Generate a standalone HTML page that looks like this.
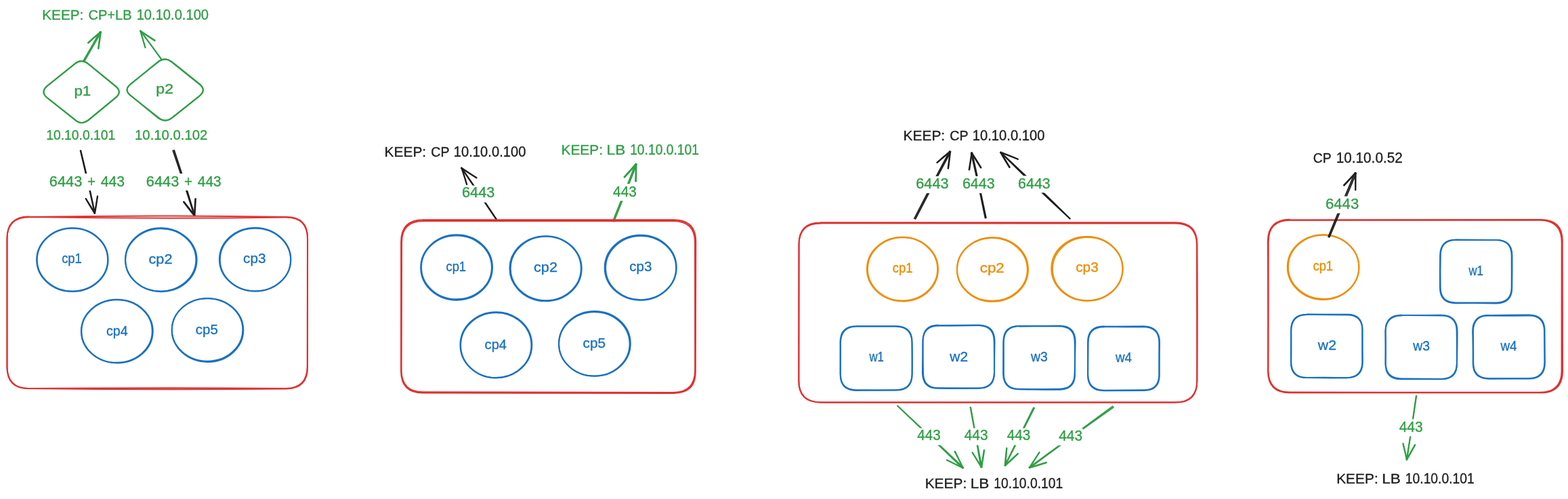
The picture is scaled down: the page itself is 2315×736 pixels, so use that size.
<!DOCTYPE html>
<html lang="en">
<head>
<meta charset="utf-8">
<title>Cluster topologies</title>
<style>
html,body{margin:0;padding:0;background:#ffffff;}
body{width:2315px;height:736px;overflow:hidden;}
svg{display:block;will-change:transform;}
svg text{font-family:"Liberation Sans", sans-serif;white-space:pre;}
</style>
</head>
<body>
<svg width="2315" height="736" viewBox="0 0 2315 736">
<rect width="2315" height="736" fill="#ffffff"/>
<text y="28.80" fill="#2f9e44" stroke="#2f9e44" stroke-width="0.35" stroke-linejoin="round" font-size="20.3"><tspan x="62.32" textLength="60.88" lengthAdjust="spacingAndGlyphs">KEEP:</tspan> <tspan x="130.47" textLength="64.19" lengthAdjust="spacingAndGlyphs" font-size="20.7">CP+LB</tspan> <tspan x="201.66" textLength="106.42" lengthAdjust="spacingAndGlyphs" font-size="21.3">10.10.0.100</tspan></text>
<path d="M123.40 89.24 Q135.78 68.09 147.74 46.71" stroke="#2f9e44" stroke-width="1.9" fill="none" stroke-linecap="round"/>
<path d="M124.79 90.04 Q136.88 68.73 149.35 47.63" stroke="#2f9e44" stroke-width="1.9" fill="none" stroke-linecap="round"/>
<path d="M129.88 63.04 Q138.96 54.80 148.40 46.98" stroke="#2f9e44" stroke-width="1.9" fill="none" stroke-linecap="round"/>
<path d="M130.38 63.61 Q139.37 55.27 148.68 47.30" stroke="#2f9e44" stroke-width="1.9" fill="none" stroke-linecap="round"/>
<path d="M144.97 71.66 Q146.48 59.39 148.43 47.18" stroke="#2f9e44" stroke-width="1.9" fill="none" stroke-linecap="round"/>
<path d="M145.49 71.73 Q147.48 59.52 148.95 47.25" stroke="#2f9e44" stroke-width="1.9" fill="none" stroke-linecap="round"/>
<path d="M238.86 88.40 Q223.65 66.62 207.21 45.74" stroke="#2f9e44" stroke-width="1.9" fill="none" stroke-linecap="round"/>
<path d="M239.01 88.29 Q223.07 67.04 207.68 45.40" stroke="#2f9e44" stroke-width="1.9" fill="none" stroke-linecap="round"/>
<path d="M228.38 60.23 Q217.71 53.17 207.17 45.93" stroke="#2f9e44" stroke-width="1.9" fill="none" stroke-linecap="round"/>
<path d="M228.81 59.59 Q218.17 52.50 207.47 45.50" stroke="#2f9e44" stroke-width="1.9" fill="none" stroke-linecap="round"/>
<path d="M214.41 70.25 Q210.79 57.96 207.11 45.68" stroke="#2f9e44" stroke-width="1.9" fill="none" stroke-linecap="round"/>
<path d="M214.67 70.18 Q210.90 57.93 207.47 45.58" stroke="#2f9e44" stroke-width="1.9" fill="none" stroke-linecap="round"/>
<path d="M110.15 94.35 Q120.25 85.78 130.44 94.50 L171.03 127.36 Q181.09 135.98 170.48 144.11 L130.86 176.57 Q120.22 185.47 110.45 176.40 L69.52 144.02 Q59.80 135.67 69.40 127.33 Z" stroke="#2f9e44" stroke-width="2.0" fill="none" stroke-linejoin="round"/>
<path d="M110.35 94.23 Q120.38 85.94 130.83 94.51 L171.07 127.61 Q180.63 135.80 170.71 144.20 L130.78 177.28 Q120.19 185.39 110.29 176.57 L69.39 144.00 Q59.09 135.87 69.53 126.78 Z" stroke="#2f9e44" stroke-width="2.0" fill="none" stroke-linejoin="round"/>
<path d="M233.04 91.35 Q243.38 83.15 254.08 91.97 L294.56 124.59 Q304.67 132.52 294.83 141.36 L254.04 173.99 Q243.48 181.73 233.87 173.25 L192.83 140.98 Q182.21 132.52 193.18 123.96 Z" stroke="#2f9e44" stroke-width="2.0" fill="none" stroke-linejoin="round"/>
<path d="M233.28 91.67 Q243.82 83.32 254.64 91.79 L294.68 123.76 Q305.27 132.90 294.91 141.28 L254.08 173.50 Q243.36 181.57 233.02 173.74 L192.80 140.66 Q182.21 132.25 192.93 123.75 Z" stroke="#2f9e44" stroke-width="2.0" fill="none" stroke-linejoin="round"/>
<text y="140.50" fill="#2f9e44" stroke="#2f9e44" stroke-width="0.35" stroke-linejoin="round" font-size="20"><tspan x="109.42" textLength="24.87" lengthAdjust="spacingAndGlyphs">p1</tspan></text>
<text y="138.20" fill="#2f9e44" stroke="#2f9e44" stroke-width="0.35" stroke-linejoin="round" font-size="20"><tspan x="230.38" textLength="25.66" lengthAdjust="spacingAndGlyphs">p2</tspan></text>
<text y="206.30" fill="#2f9e44" stroke="#2f9e44" stroke-width="0.35" stroke-linejoin="round" font-size="21"><tspan x="68.23" textLength="102.02" lengthAdjust="spacingAndGlyphs">10.10.0.101</tspan></text>
<text y="206.00" fill="#2f9e44" stroke="#2f9e44" stroke-width="0.35" stroke-linejoin="round" font-size="21"><tspan x="199.05" textLength="107.35" lengthAdjust="spacingAndGlyphs">10.10.0.102</tspan></text>
<path d="M119.35 222.12 Q130.49 268.11 140.15 314.44" stroke="#1e1e1e" stroke-width="1.9" fill="none" stroke-linecap="round"/>
<path d="M118.66 222.28 Q129.71 268.29 139.66 314.55" stroke="#1e1e1e" stroke-width="1.9" fill="none" stroke-linecap="round"/>
<path d="M126.90 292.92 Q133.60 303.58 140.16 314.34" stroke="#1e1e1e" stroke-width="1.9" fill="none" stroke-linecap="round"/>
<path d="M126.52 293.15 Q132.79 304.09 139.57 314.71" stroke="#1e1e1e" stroke-width="1.9" fill="none" stroke-linecap="round"/>
<path d="M144.16 289.44 Q142.40 302.03 140.15 314.54" stroke="#1e1e1e" stroke-width="1.9" fill="none" stroke-linecap="round"/>
<path d="M143.81 289.39 Q141.90 301.95 139.72 314.47" stroke="#1e1e1e" stroke-width="1.9" fill="none" stroke-linecap="round"/>
<rect x="72.2" y="256.0" width="112.6" height="25" fill="#ffffff"/>
<text y="274.50" fill="#2f9e44" stroke="#2f9e44" stroke-width="0.35" stroke-linejoin="round" font-size="21.3"><tspan x="72.78" textLength="48.51" lengthAdjust="spacingAndGlyphs">6443</tspan> <tspan x="128.95" textLength="11.98" lengthAdjust="spacingAndGlyphs">+</tspan> <tspan x="148.74" textLength="35.41" lengthAdjust="spacingAndGlyphs">443</tspan></text>
<path d="M257.13 221.57 Q273.10 269.58 287.61 318.07" stroke="#1e1e1e" stroke-width="1.9" fill="none" stroke-linecap="round"/>
<path d="M255.37 222.13 Q271.68 270.04 286.90 318.29" stroke="#1e1e1e" stroke-width="1.9" fill="none" stroke-linecap="round"/>
<path d="M271.48 297.46 Q279.50 307.71 287.55 317.93" stroke="#1e1e1e" stroke-width="1.9" fill="none" stroke-linecap="round"/>
<path d="M270.95 297.87 Q278.83 308.23 286.89 318.44" stroke="#1e1e1e" stroke-width="1.9" fill="none" stroke-linecap="round"/>
<path d="M288.95 293.12 Q288.42 305.68 287.50 318.22" stroke="#1e1e1e" stroke-width="1.9" fill="none" stroke-linecap="round"/>
<path d="M288.24 293.08 Q287.42 305.62 286.94 318.19" stroke="#1e1e1e" stroke-width="1.9" fill="none" stroke-linecap="round"/>
<rect x="215.2" y="256.0" width="112.1" height="25" fill="#ffffff"/>
<text y="274.50" fill="#2f9e44" stroke="#2f9e44" stroke-width="0.35" stroke-linejoin="round" font-size="21.3"><tspan x="215.78" textLength="48.51" lengthAdjust="spacingAndGlyphs">6443</tspan> <tspan x="271.95" textLength="11.98" lengthAdjust="spacingAndGlyphs">+</tspan> <tspan x="291.75" textLength="34.89" lengthAdjust="spacingAndGlyphs">443</tspan></text>
<path d="M42.43 320.06 Q232.20 323.13 422.19 320.50 Q453.96 320.36 454.02 352.06 Q453.87 446.52 453.75 540.47 Q453.68 572.72 421.68 572.93 Q232.20 571.62 42.51 573.11 Q10.72 572.96 10.46 540.60 Q10.30 446.52 10.34 352.04 Q10.59 320.39 42.79 320.24" stroke="#e03131" stroke-width="2.0" fill="none" stroke-linecap="round" stroke-linejoin="round"/>
<path d="M42.36 319.96 Q232.20 316.77 422.26 320.04 Q454.25 319.84 454.13 351.52 Q454.41 446.48 454.03 541.41 Q454.32 573.16 422.08 573.51 Q232.20 575.00 42.02 572.94 Q10.13 573.34 10.46 540.95 Q10.55 446.48 10.59 351.86 Q10.20 319.77 41.99 319.41" stroke="#e03131" stroke-width="2.0" fill="none" stroke-linecap="round" stroke-linejoin="round"/>
<path d="M54.77 383.10 C54.77 357.48 78.12 336.70 106.93 336.70 C135.74 336.70 159.09 357.48 159.09 383.10 C159.09 408.73 135.74 429.51 106.93 429.51 C78.12 429.51 54.77 408.73 54.77 383.10 Z" transform="rotate(-0.20 106.60 383.00)" stroke="#1971c2" stroke-width="2.0" fill="none"/>
<path d="M54.11 383.23 C54.11 357.35 77.73 336.37 106.86 336.37 C135.99 336.37 159.61 357.35 159.61 383.23 C159.61 409.11 135.99 430.09 106.86 430.09 C77.73 430.09 54.11 409.11 54.11 383.23 Z" transform="rotate(-0.62 106.60 383.00)" stroke="#1971c2" stroke-width="2.0" fill="none"/>
<text y="388.30" fill="#1971c2" stroke="#1971c2" stroke-width="0.35" stroke-linejoin="round" font-size="20"><tspan x="91.14" textLength="29.75" lengthAdjust="spacingAndGlyphs">cp1</tspan></text>
<path d="M185.25 383.36 C185.25 357.83 208.56 337.14 237.32 337.14 C266.07 337.14 289.38 357.83 289.38 383.36 C289.38 408.89 266.07 429.58 237.32 429.58 C208.56 429.58 185.25 408.89 185.25 383.36 Z" transform="rotate(-1.11 237.50 383.30)" stroke="#1971c2" stroke-width="2.0" fill="none"/>
<path d="M184.95 383.20 C184.95 357.25 208.61 336.22 237.79 336.22 C266.97 336.22 290.62 357.25 290.62 383.20 C290.62 409.14 266.97 430.18 237.79 430.18 C208.61 430.18 184.95 409.14 184.95 383.20 Z" transform="rotate(1.21 237.50 383.30)" stroke="#1971c2" stroke-width="2.0" fill="none"/>
<text y="389.30" fill="#1971c2" stroke="#1971c2" stroke-width="0.35" stroke-linejoin="round" font-size="20"><tspan x="219.50" textLength="34.96" lengthAdjust="spacingAndGlyphs">cp2</tspan></text>
<path d="M324.79 383.09 C324.79 357.54 348.14 336.83 376.94 336.83 C405.75 336.83 429.10 357.54 429.10 383.09 C429.10 408.64 405.75 429.35 376.94 429.35 C348.14 429.35 324.79 408.64 324.79 383.09 Z" transform="rotate(0.07 377.00 382.80)" stroke="#1971c2" stroke-width="2.0" fill="none"/>
<path d="M323.92 382.76 C323.92 356.92 347.54 335.98 376.66 335.98 C405.79 335.98 429.40 356.92 429.40 382.76 C429.40 408.59 405.79 429.53 376.66 429.53 C347.54 429.53 323.92 408.59 323.92 382.76 Z" transform="rotate(0.90 377.00 382.80)" stroke="#1971c2" stroke-width="2.0" fill="none"/>
<text y="388.30" fill="#1971c2" stroke="#1971c2" stroke-width="0.35" stroke-linejoin="round" font-size="20"><tspan x="359.14" textLength="33.36" lengthAdjust="spacingAndGlyphs">cp3</tspan></text>
<path d="M120.34 488.58 C120.34 463.03 143.72 442.31 172.57 442.31 C201.42 442.31 224.80 463.03 224.80 488.58 C224.80 514.14 201.42 534.85 172.57 534.85 C143.72 534.85 120.34 514.14 120.34 488.58 Z" transform="rotate(-0.52 172.80 488.60)" stroke="#1971c2" stroke-width="2.0" fill="none"/>
<path d="M119.86 488.64 C119.86 462.78 143.57 441.83 172.81 441.83 C202.06 441.83 225.76 462.78 225.76 488.64 C225.76 514.49 202.06 535.45 172.81 535.45 C143.57 535.45 119.86 514.49 119.86 488.64 Z" transform="rotate(0.18 172.80 488.60)" stroke="#1971c2" stroke-width="2.0" fill="none"/>
<text y="494.80" fill="#1971c2" stroke="#1971c2" stroke-width="0.35" stroke-linejoin="round" font-size="20"><tspan x="156.99" textLength="31.88" lengthAdjust="spacingAndGlyphs">cp4</tspan></text>
<path d="M253.88 486.44 C253.88 460.90 277.27 440.19 306.12 440.19 C334.98 440.19 358.37 460.90 358.37 486.44 C358.37 511.99 334.98 532.70 306.12 532.70 C277.27 532.70 253.88 511.99 253.88 486.44 Z" transform="rotate(0.19 306.30 486.60)" stroke="#1971c2" stroke-width="2.0" fill="none"/>
<path d="M253.65 486.89 C253.65 460.94 277.30 439.90 306.48 439.90 C335.66 439.90 359.31 460.94 359.31 486.89 C359.31 512.84 335.66 533.88 306.48 533.88 C277.30 533.88 253.65 512.84 253.65 486.89 Z" transform="rotate(0.02 306.30 486.60)" stroke="#1971c2" stroke-width="2.0" fill="none"/>
<text y="493.10" fill="#1971c2" stroke="#1971c2" stroke-width="0.35" stroke-linejoin="round" font-size="20"><tspan x="288.75" textLength="33.04" lengthAdjust="spacingAndGlyphs">cp5</tspan></text>
<text y="230.50" fill="#1e1e1e" stroke="#1e1e1e" stroke-width="0.35" stroke-linejoin="round" font-size="20.3"><tspan x="567.60" textLength="61.52" lengthAdjust="spacingAndGlyphs">KEEP:</tspan> <tspan x="636.20" textLength="26.97" lengthAdjust="spacingAndGlyphs">CP</tspan> <tspan x="669.76" textLength="106.73" lengthAdjust="spacingAndGlyphs" font-size="21.3">10.10.0.100</tspan></text>
<text y="227.80" fill="#2f9e44" stroke="#2f9e44" stroke-width="0.35" stroke-linejoin="round" font-size="20.3"><tspan x="828.50" textLength="61.52" lengthAdjust="spacingAndGlyphs">KEEP:</tspan> <tspan x="895.57" textLength="27.66" lengthAdjust="spacingAndGlyphs" font-size="20.900000000000002">LB</tspan> <tspan x="930.13" textLength="101.92" lengthAdjust="spacingAndGlyphs" font-size="21.3">10.10.0.101</tspan></text>
<path d="M732.64 323.61 Q706.91 285.73 681.30 247.77" stroke="#1e1e1e" stroke-width="1.9" fill="none" stroke-linecap="round"/>
<path d="M732.98 323.38 Q707.85 285.09 681.56 247.59" stroke="#1e1e1e" stroke-width="1.9" fill="none" stroke-linecap="round"/>
<path d="M689.04 272.15 Q685.42 259.86 681.31 247.73" stroke="#1e1e1e" stroke-width="1.9" fill="none" stroke-linecap="round"/>
<path d="M689.35 272.05 Q685.76 259.75 681.66 247.62" stroke="#1e1e1e" stroke-width="1.9" fill="none" stroke-linecap="round"/>
<path d="M703.44 262.40 Q692.18 255.40 681.18 248.03" stroke="#1e1e1e" stroke-width="1.9" fill="none" stroke-linecap="round"/>
<path d="M703.63 262.11 Q692.45 255.00 681.44 247.63" stroke="#1e1e1e" stroke-width="1.9" fill="none" stroke-linecap="round"/>
<rect x="681.4" y="273.6" width="49.8" height="25" fill="#ffffff"/>
<text y="291.40" fill="#2f9e44" stroke="#2f9e44" stroke-width="0.35" stroke-linejoin="round" font-size="21.3"><tspan x="681.98" textLength="48.51" lengthAdjust="spacingAndGlyphs">6443</tspan></text>
<path d="M904.84 326.20 Q922.03 284.10 938.38 241.67" stroke="#2f9e44" stroke-width="1.9" fill="none" stroke-linecap="round"/>
<path d="M906.35 326.80 Q923.47 284.68 939.95 242.30" stroke="#2f9e44" stroke-width="1.9" fill="none" stroke-linecap="round"/>
<path d="M921.41 261.04 Q930.26 251.48 938.76 241.60" stroke="#2f9e44" stroke-width="1.9" fill="none" stroke-linecap="round"/>
<path d="M922.17 261.73 Q931.01 252.16 939.45 242.23" stroke="#2f9e44" stroke-width="1.9" fill="none" stroke-linecap="round"/>
<path d="M938.11 267.39 Q938.72 254.70 938.75 241.99" stroke="#2f9e44" stroke-width="1.9" fill="none" stroke-linecap="round"/>
<path d="M939.18 267.41 Q939.31 254.71 939.51 242.01" stroke="#2f9e44" stroke-width="1.9" fill="none" stroke-linecap="round"/>
<rect x="903.9" y="271.2" width="36.8" height="25" fill="#ffffff"/>
<text y="289.70" fill="#2f9e44" stroke="#2f9e44" stroke-width="0.35" stroke-linejoin="round" font-size="21.3"><tspan x="905.05" textLength="34.99" lengthAdjust="spacingAndGlyphs">443</tspan></text>
<path d="M624.91 325.79 Q809.50 325.62 993.97 326.06 Q1025.93 325.92 1026.06 357.56 Q1025.95 452.25 1026.19 546.61 Q1025.95 578.77 994.30 578.93 Q809.50 578.24 624.74 578.28 Q593.00 578.52 592.64 546.55 Q593.27 452.25 593.12 357.73 Q592.78 326.05 624.95 326.04" stroke="#e03131" stroke-width="2.0" fill="none" stroke-linecap="round" stroke-linejoin="round"/>
<path d="M624.01 324.19 Q809.70 324.67 995.05 324.20 Q1027.25 324.55 1027.31 356.21 Q1027.42 452.05 1026.80 547.85 Q1027.08 579.54 995.14 579.90 Q809.70 579.39 624.04 579.62 Q592.21 579.46 592.06 547.29 Q592.03 452.05 592.17 356.36 Q592.39 324.43 624.30 324.27" stroke="#e03131" stroke-width="2.0" fill="none" stroke-linecap="round" stroke-linejoin="round"/>
<path d="M622.03 394.36 C622.03 368.42 645.29 347.38 673.99 347.38 C702.69 347.38 725.96 368.42 725.96 394.36 C725.96 420.31 702.69 441.34 673.99 441.34 C645.29 441.34 622.03 420.31 622.03 394.36 Z" transform="rotate(0.70 674.10 394.70)" stroke="#1971c2" stroke-width="2.0" fill="none"/>
<path d="M621.19 394.48 C621.19 367.86 644.90 346.28 674.14 346.28 C703.38 346.28 727.08 367.86 727.08 394.48 C727.08 421.10 703.38 442.68 674.14 442.68 C644.90 442.68 621.19 421.10 621.19 394.48 Z" transform="rotate(-1.18 674.10 394.70)" stroke="#1971c2" stroke-width="2.0" fill="none"/>
<text y="400.10" fill="#1971c2" stroke="#1971c2" stroke-width="0.35" stroke-linejoin="round" font-size="20"><tspan x="658.45" textLength="29.64" lengthAdjust="spacingAndGlyphs">cp1</tspan></text>
<path d="M753.77 395.95 C753.77 369.85 777.08 348.69 805.82 348.69 C834.57 348.69 857.87 369.85 857.87 395.95 C857.87 422.06 834.57 443.22 805.82 443.22 C777.08 443.22 753.77 422.06 753.77 395.95 Z" transform="rotate(-0.32 805.60 396.00)" stroke="#1971c2" stroke-width="2.0" fill="none"/>
<path d="M752.49 396.13 C752.49 369.62 776.27 348.14 805.60 348.14 C834.94 348.14 858.72 369.62 858.72 396.13 C858.72 422.64 834.94 444.13 805.60 444.13 C776.27 444.13 752.49 422.64 752.49 396.13 Z" transform="rotate(1.00 805.60 396.00)" stroke="#1971c2" stroke-width="2.0" fill="none"/>
<text y="400.80" fill="#1971c2" stroke="#1971c2" stroke-width="0.35" stroke-linejoin="round" font-size="20"><tspan x="788.00" textLength="35.07" lengthAdjust="spacingAndGlyphs">cp2</tspan></text>
<path d="M894.13 395.10 C894.13 369.08 917.42 348.00 946.14 348.00 C974.87 348.00 998.16 369.08 998.16 395.10 C998.16 421.11 974.87 442.19 946.14 442.19 C917.42 442.19 894.13 421.11 894.13 395.10 Z" transform="rotate(-1.34 946.00 395.00)" stroke="#1971c2" stroke-width="2.0" fill="none"/>
<path d="M892.71 394.70 C892.71 368.21 916.45 346.74 945.74 346.74 C975.03 346.74 998.78 368.21 998.78 394.70 C998.78 421.19 975.03 442.66 945.74 442.66 C916.45 442.66 892.71 421.19 892.71 394.70 Z" transform="rotate(-1.01 946.00 395.00)" stroke="#1971c2" stroke-width="2.0" fill="none"/>
<text y="400.10" fill="#1971c2" stroke="#1971c2" stroke-width="0.35" stroke-linejoin="round" font-size="20"><tspan x="929.35" textLength="33.04" lengthAdjust="spacingAndGlyphs">cp3</tspan></text>
<path d="M680.13 509.14 C680.13 482.68 703.49 461.23 732.31 461.23 C761.13 461.23 784.49 482.68 784.49 509.14 C784.49 535.60 761.13 557.05 732.31 557.05 C703.49 557.05 680.13 535.60 680.13 509.14 Z" transform="rotate(-0.65 732.60 508.90)" stroke="#1971c2" stroke-width="2.0" fill="none"/>
<path d="M679.48 508.76 C679.48 481.90 703.18 460.13 732.42 460.13 C761.66 460.13 785.36 481.90 785.36 508.76 C785.36 535.61 761.66 557.39 732.42 557.39 C703.18 557.39 679.48 535.61 679.48 508.76 Z" transform="rotate(-0.16 732.60 508.90)" stroke="#1971c2" stroke-width="2.0" fill="none"/>
<text y="515.10" fill="#1971c2" stroke="#1971c2" stroke-width="0.35" stroke-linejoin="round" font-size="20"><tspan x="715.57" textLength="32.51" lengthAdjust="spacingAndGlyphs">cp4</tspan></text>
<path d="M825.22 507.32 C825.22 481.27 848.60 460.16 877.43 460.16 C906.27 460.16 929.65 481.27 929.65 507.32 C929.65 533.37 906.27 554.49 877.43 554.49 C848.60 554.49 825.22 533.37 825.22 507.32 Z" transform="rotate(-0.77 877.60 507.00)" stroke="#1971c2" stroke-width="2.0" fill="none"/>
<path d="M825.03 506.87 C825.03 480.43 848.71 458.99 877.93 458.99 C907.14 458.99 930.83 480.43 930.83 506.87 C930.83 533.31 907.14 554.74 877.93 554.74 C848.71 554.74 825.03 533.31 825.03 506.87 Z" transform="rotate(-0.36 877.60 507.00)" stroke="#1971c2" stroke-width="2.0" fill="none"/>
<text y="513.00" fill="#1971c2" stroke="#1971c2" stroke-width="0.35" stroke-linejoin="round" font-size="20"><tspan x="860.54" textLength="33.57" lengthAdjust="spacingAndGlyphs">cp5</tspan></text>
<text y="206.80" fill="#1e1e1e" stroke="#1e1e1e" stroke-width="0.35" stroke-linejoin="round" font-size="20.3"><tspan x="1333.60" textLength="61.52" lengthAdjust="spacingAndGlyphs">KEEP:</tspan> <tspan x="1402.20" textLength="26.97" lengthAdjust="spacingAndGlyphs">CP</tspan> <tspan x="1435.76" textLength="106.73" lengthAdjust="spacingAndGlyphs" font-size="21.3">10.10.0.100</tspan></text>
<path d="M1349.99 322.08 Q1375.58 272.41 1402.00 223.18" stroke="#1e1e1e" stroke-width="1.9" fill="none" stroke-linecap="round"/>
<path d="M1351.60 322.92 Q1377.18 273.25 1403.42 223.93" stroke="#1e1e1e" stroke-width="1.9" fill="none" stroke-linecap="round"/>
<path d="M1383.30 239.65 Q1392.76 231.29 1402.58 223.34" stroke="#1e1e1e" stroke-width="1.9" fill="none" stroke-linecap="round"/>
<path d="M1383.67 240.08 Q1393.20 231.80 1402.94 223.77" stroke="#1e1e1e" stroke-width="1.9" fill="none" stroke-linecap="round"/>
<path d="M1399.54 248.57 Q1401.17 236.08 1402.51 223.57" stroke="#1e1e1e" stroke-width="1.9" fill="none" stroke-linecap="round"/>
<path d="M1400.16 248.64 Q1401.90 236.17 1403.18 223.65" stroke="#1e1e1e" stroke-width="1.9" fill="none" stroke-linecap="round"/>
<rect x="1351.6" y="259.9" width="49.7" height="25" fill="#ffffff"/>
<text y="278.40" fill="#2f9e44" stroke="#2f9e44" stroke-width="0.35" stroke-linejoin="round" font-size="21.3"><tspan x="1352.19" textLength="48.41" lengthAdjust="spacingAndGlyphs">6443</tspan></text>
<path d="M1454.57 321.46 Q1444.92 273.40 1433.75 225.66" stroke="#1e1e1e" stroke-width="1.9" fill="none" stroke-linecap="round"/>
<path d="M1455.85 321.18 Q1445.78 273.21 1435.27 225.33" stroke="#1e1e1e" stroke-width="1.9" fill="none" stroke-linecap="round"/>
<path d="M1430.57 250.34 Q1432.71 237.94 1434.39 225.48" stroke="#1e1e1e" stroke-width="1.9" fill="none" stroke-linecap="round"/>
<path d="M1431.30 250.44 Q1433.25 238.02 1434.84 225.55" stroke="#1e1e1e" stroke-width="1.9" fill="none" stroke-linecap="round"/>
<path d="M1447.97 247.61 Q1441.13 236.62 1434.30 225.63" stroke="#1e1e1e" stroke-width="1.9" fill="none" stroke-linecap="round"/>
<path d="M1448.62 247.20 Q1441.89 236.14 1434.81 225.30" stroke="#1e1e1e" stroke-width="1.9" fill="none" stroke-linecap="round"/>
<rect x="1420.3" y="259.9" width="49.2" height="25" fill="#ffffff"/>
<text y="278.40" fill="#2f9e44" stroke="#2f9e44" stroke-width="0.35" stroke-linejoin="round" font-size="21.3"><tspan x="1420.90" textLength="47.89" lengthAdjust="spacingAndGlyphs">6443</tspan></text>
<path d="M1579.59 322.51 Q1527.46 274.74 1477.27 224.94" stroke="#1e1e1e" stroke-width="1.9" fill="none" stroke-linecap="round"/>
<path d="M1579.69 322.41 Q1529.28 272.83 1477.57 224.63" stroke="#1e1e1e" stroke-width="1.9" fill="none" stroke-linecap="round"/>
<path d="M1490.26 247.10 Q1483.49 236.15 1477.14 224.96" stroke="#1e1e1e" stroke-width="1.9" fill="none" stroke-linecap="round"/>
<path d="M1490.93 246.70 Q1484.35 235.64 1477.63 224.66" stroke="#1e1e1e" stroke-width="1.9" fill="none" stroke-linecap="round"/>
<path d="M1502.83 234.89 Q1490.08 229.93 1477.34 224.97" stroke="#1e1e1e" stroke-width="1.9" fill="none" stroke-linecap="round"/>
<path d="M1502.92 234.65 Q1490.28 229.42 1477.53 224.46" stroke="#1e1e1e" stroke-width="1.9" fill="none" stroke-linecap="round"/>
<rect x="1502.5" y="259.3" width="49.0" height="25" fill="#ffffff"/>
<text y="277.80" fill="#2f9e44" stroke="#2f9e44" stroke-width="0.35" stroke-linejoin="round" font-size="21.3"><tspan x="1503.10" textLength="47.68" lengthAdjust="spacingAndGlyphs">6443</tspan></text>
<path d="M1211.60 329.32 Q1473.38 329.44 1734.85 329.47 Q1767.06 329.15 1766.99 361.46 Q1766.88 461.33 1767.32 561.68 Q1767.15 593.31 1735.14 593.48 Q1473.38 593.59 1211.68 593.45 Q1179.45 593.23 1179.43 561.52 Q1179.42 461.33 1179.65 360.96 Q1179.45 329.22 1211.72 329.43" stroke="#e03131" stroke-width="2.0" fill="none" stroke-linecap="round" stroke-linejoin="round"/>
<path d="M1211.32 328.15 Q1473.43 328.32 1735.63 328.28 Q1767.52 328.44 1767.44 360.63 Q1768.05 460.98 1767.31 561.62 Q1767.76 593.81 1735.61 593.49 Q1473.43 593.39 1211.51 593.45 Q1179.23 593.52 1179.22 561.97 Q1178.87 460.98 1179.42 360.31 Q1179.34 328.37 1211.01 328.58" stroke="#e03131" stroke-width="2.0" fill="none" stroke-linecap="round" stroke-linejoin="round"/>
<path d="M1280.96 396.97 C1280.96 371.23 1304.08 350.37 1332.59 350.37 C1361.10 350.37 1384.22 371.23 1384.22 396.97 C1384.22 422.70 1361.10 443.56 1332.59 443.56 C1304.08 443.56 1280.96 422.70 1280.96 396.97 Z" transform="rotate(-0.15 1332.60 397.30)" stroke="#f08c00" stroke-width="2.0" fill="none"/>
<path d="M1279.92 397.05 C1279.92 370.91 1303.44 349.71 1332.46 349.71 C1361.48 349.71 1385.01 370.91 1385.01 397.05 C1385.01 423.19 1361.48 444.38 1332.46 444.38 C1303.44 444.38 1279.92 423.19 1279.92 397.05 Z" transform="rotate(1.02 1332.60 397.30)" stroke="#f08c00" stroke-width="2.0" fill="none"/>
<text y="402.10" fill="#f08c00" stroke="#f08c00" stroke-width="0.35" stroke-linejoin="round" font-size="20"><tspan x="1317.74" textLength="29.75" lengthAdjust="spacingAndGlyphs">cp1</tspan></text>
<path d="M1413.03 397.38 C1413.03 371.71 1436.28 350.91 1464.95 350.91 C1493.63 350.91 1516.87 371.71 1516.87 397.38 C1516.87 423.04 1493.63 443.84 1464.95 443.84 C1436.28 443.84 1413.03 423.04 1413.03 397.38 Z" transform="rotate(1.28 1465.30 397.20)" stroke="#f08c00" stroke-width="2.0" fill="none"/>
<path d="M1412.92 397.48 C1412.92 371.33 1436.44 350.13 1465.45 350.13 C1494.46 350.13 1517.98 371.33 1517.98 397.48 C1517.98 423.64 1494.46 444.84 1465.45 444.84 C1436.44 444.84 1412.92 423.64 1412.92 397.48 Z" transform="rotate(-0.32 1465.30 397.20)" stroke="#f08c00" stroke-width="2.0" fill="none"/>
<text y="402.40" fill="#f08c00" stroke="#f08c00" stroke-width="0.35" stroke-linejoin="round" font-size="20"><tspan x="1446.77" textLength="36.02" lengthAdjust="spacingAndGlyphs">cp2</tspan></text>
<path d="M1553.90 396.66 C1553.90 370.94 1577.07 350.09 1605.65 350.09 C1634.23 350.09 1657.40 370.94 1657.40 396.66 C1657.40 422.39 1634.23 443.24 1605.65 443.24 C1577.07 443.24 1553.90 422.39 1553.90 396.66 Z" transform="rotate(-0.67 1605.30 396.60)" stroke="#f08c00" stroke-width="2.0" fill="none"/>
<path d="M1552.27 396.32 C1552.27 370.18 1575.87 349.00 1604.98 349.00 C1634.10 349.00 1657.70 370.18 1657.70 396.32 C1657.70 422.46 1634.10 443.65 1604.98 443.65 C1575.87 443.65 1552.27 422.46 1552.27 396.32 Z" transform="rotate(1.31 1605.30 396.60)" stroke="#f08c00" stroke-width="2.0" fill="none"/>
<text y="401.00" fill="#f08c00" stroke="#f08c00" stroke-width="0.35" stroke-linejoin="round" font-size="20"><tspan x="1588.24" textLength="33.47" lengthAdjust="spacingAndGlyphs">cp3</tspan></text>
<path d="M1264.52 481.49 Q1293.70 481.66 1322.48 481.56 Q1346.41 481.78 1346.47 505.29 Q1346.63 528.50 1346.56 551.83 Q1346.33 575.19 1322.86 575.32 Q1293.70 575.58 1264.80 575.20 Q1240.99 575.50 1240.89 551.78 Q1241.01 528.50 1241.01 505.37 Q1241.32 481.57 1264.81 481.51" stroke="#1971c2" stroke-width="2.0" fill="none" stroke-linecap="round" stroke-linejoin="round"/>
<path d="M1264.24 481.08 Q1293.70 480.85 1322.96 480.95 Q1346.89 481.15 1346.55 504.98 Q1347.20 528.50 1346.71 552.05 Q1346.64 575.71 1323.09 575.56 Q1293.70 575.61 1264.03 575.90 Q1240.79 575.94 1240.59 552.24 Q1240.67 528.50 1240.56 504.59 Q1240.50 481.07 1264.53 480.89" stroke="#1971c2" stroke-width="2.0" fill="none" stroke-linecap="round" stroke-linejoin="round"/>
<text y="533.00" fill="#1971c2" stroke="#1971c2" stroke-width="0.35" stroke-linejoin="round" font-size="20"><tspan x="1283.38" textLength="21.45" lengthAdjust="spacingAndGlyphs">w1</tspan></text>
<path d="M1385.93 480.34 Q1415.25 480.58 1444.38 480.09 Q1467.66 480.21 1467.71 503.74 Q1468.07 526.35 1468.01 548.94 Q1467.59 572.52 1444.85 572.43 Q1415.25 572.53 1385.58 572.37 Q1362.90 572.56 1363.00 549.61 Q1362.52 526.35 1362.48 503.18 Q1362.76 480.31 1386.23 480.41" stroke="#1971c2" stroke-width="2.0" fill="none" stroke-linecap="round" stroke-linejoin="round"/>
<path d="M1385.53 479.94 Q1415.25 479.71 1445.11 479.43 Q1468.35 479.66 1468.54 503.03 Q1468.07 526.35 1467.99 549.60 Q1468.30 573.02 1444.80 572.65 Q1415.25 572.97 1385.48 572.87 Q1362.15 572.99 1361.91 549.64 Q1362.21 526.35 1362.57 503.03 Q1362.38 479.74 1385.24 479.57" stroke="#1971c2" stroke-width="2.0" fill="none" stroke-linecap="round" stroke-linejoin="round"/>
<text y="532.50" fill="#1971c2" stroke="#1971c2" stroke-width="0.35" stroke-linejoin="round" font-size="20"><tspan x="1402.38" textLength="26.77" lengthAdjust="spacingAndGlyphs">w2</tspan></text>
<path d="M1505.55 481.39 Q1534.40 481.07 1563.24 481.25 Q1586.91 481.22 1586.68 504.64 Q1587.24 527.55 1586.66 550.25 Q1586.79 573.82 1563.70 573.64 Q1534.40 574.12 1505.39 573.85 Q1481.85 574.01 1481.82 550.80 Q1481.71 527.55 1481.76 504.71 Q1481.88 481.41 1505.22 481.03" stroke="#1971c2" stroke-width="2.0" fill="none" stroke-linecap="round" stroke-linejoin="round"/>
<path d="M1504.53 480.69 Q1534.40 480.90 1564.39 480.50 Q1587.31 480.65 1587.68 503.77 Q1586.94 527.55 1587.04 551.00 Q1587.49 574.48 1564.24 574.70 Q1534.40 574.74 1504.61 574.13 Q1481.60 574.44 1481.12 551.19 Q1481.34 527.55 1481.36 503.91 Q1481.33 480.58 1504.57 480.65" stroke="#1971c2" stroke-width="2.0" fill="none" stroke-linecap="round" stroke-linejoin="round"/>
<text y="533.00" fill="#1971c2" stroke="#1971c2" stroke-width="0.35" stroke-linejoin="round" font-size="20"><tspan x="1522.08" textLength="24.79" lengthAdjust="spacingAndGlyphs">w3</tspan></text>
<path d="M1630.27 481.79 Q1658.95 482.47 1687.75 481.95 Q1711.56 482.16 1711.40 505.23 Q1711.43 528.80 1711.36 552.34 Q1711.34 575.50 1688.23 575.22 Q1658.95 575.47 1630.17 575.74 Q1606.29 575.39 1606.14 552.34 Q1606.23 528.80 1606.62 505.83 Q1606.39 481.97 1630.27 482.13" stroke="#1971c2" stroke-width="2.0" fill="none" stroke-linecap="round" stroke-linejoin="round"/>
<path d="M1629.28 481.70 Q1658.95 481.38 1688.29 481.20 Q1712.04 481.70 1712.04 505.36 Q1711.52 528.80 1711.76 552.53 Q1712.11 576.21 1688.37 575.88 Q1658.95 575.99 1629.45 576.35 Q1605.84 576.16 1606.12 552.78 Q1606.20 528.80 1606.03 504.93 Q1605.89 481.50 1629.65 481.26" stroke="#1971c2" stroke-width="2.0" fill="none" stroke-linecap="round" stroke-linejoin="round"/>
<text y="534.00" fill="#1971c2" stroke="#1971c2" stroke-width="0.35" stroke-linejoin="round" font-size="20"><tspan x="1646.97" textLength="24.08" lengthAdjust="spacingAndGlyphs">w4</tspan></text>
<path d="M1325.12 598.58 Q1374.04 643.82 1422.41 689.66" stroke="#2f9e44" stroke-width="1.9" fill="none" stroke-linecap="round"/>
<path d="M1325.09 598.61 Q1373.21 644.71 1421.44 690.68" stroke="#2f9e44" stroke-width="1.9" fill="none" stroke-linecap="round"/>
<path d="M1410.04 665.68 Q1415.77 678.04 1421.91 690.20" stroke="#2f9e44" stroke-width="1.9" fill="none" stroke-linecap="round"/>
<path d="M1409.45 665.98 Q1415.85 678.00 1421.81 690.25" stroke="#2f9e44" stroke-width="1.9" fill="none" stroke-linecap="round"/>
<path d="M1398.06 678.27 Q1409.97 684.26 1421.99 690.02" stroke="#2f9e44" stroke-width="1.9" fill="none" stroke-linecap="round"/>
<path d="M1397.82 678.76 Q1409.86 684.48 1421.86 690.28" stroke="#2f9e44" stroke-width="1.9" fill="none" stroke-linecap="round"/>
<rect x="1353.2" y="631.5" width="36.3" height="25" fill="#ffffff"/>
<text y="649.40" fill="#2f9e44" stroke="#2f9e44" stroke-width="0.35" stroke-linejoin="round" font-size="21.3"><tspan x="1354.36" textLength="34.47" lengthAdjust="spacingAndGlyphs">443</tspan></text>
<path d="M1433.10 600.76 Q1440.97 645.00 1449.62 689.09" stroke="#2f9e44" stroke-width="1.9" fill="none" stroke-linecap="round"/>
<path d="M1432.52 600.87 Q1440.98 644.99 1448.25 689.34" stroke="#2f9e44" stroke-width="1.9" fill="none" stroke-linecap="round"/>
<path d="M1435.65 667.27 Q1442.41 678.18 1449.24 689.05" stroke="#2f9e44" stroke-width="1.9" fill="none" stroke-linecap="round"/>
<path d="M1435.47 667.38 Q1442.26 678.27 1448.75 689.35" stroke="#2f9e44" stroke-width="1.9" fill="none" stroke-linecap="round"/>
<path d="M1453.30 664.15 Q1451.50 676.73 1449.30 689.25" stroke="#2f9e44" stroke-width="1.9" fill="none" stroke-linecap="round"/>
<path d="M1452.65 664.04 Q1450.81 676.62 1448.77 689.16" stroke="#2f9e44" stroke-width="1.9" fill="none" stroke-linecap="round"/>
<rect x="1422.5" y="631.5" width="36.9" height="25" fill="#ffffff"/>
<text y="649.40" fill="#2f9e44" stroke="#2f9e44" stroke-width="0.35" stroke-linejoin="round" font-size="21.3"><tspan x="1423.65" textLength="35.10" lengthAdjust="spacingAndGlyphs">443</tspan></text>
<path d="M1527.02 601.91 Q1505.52 644.26 1484.05 686.62" stroke="#2f9e44" stroke-width="1.9" fill="none" stroke-linecap="round"/>
<path d="M1525.91 601.36 Q1504.57 643.79 1483.67 686.43" stroke="#2f9e44" stroke-width="1.9" fill="none" stroke-linecap="round"/>
<path d="M1486.55 661.01 Q1485.50 673.82 1484.41 686.64" stroke="#2f9e44" stroke-width="1.9" fill="none" stroke-linecap="round"/>
<path d="M1486.12 660.96 Q1484.62 673.74 1483.62 686.56" stroke="#2f9e44" stroke-width="1.9" fill="none" stroke-linecap="round"/>
<path d="M1503.10 669.32 Q1493.82 678.25 1484.23 686.84" stroke="#2f9e44" stroke-width="1.9" fill="none" stroke-linecap="round"/>
<path d="M1502.71 668.91 Q1493.17 677.56 1483.70 686.28" stroke="#2f9e44" stroke-width="1.9" fill="none" stroke-linecap="round"/>
<rect x="1485.5" y="631.5" width="36.4" height="25" fill="#ffffff"/>
<text y="649.40" fill="#2f9e44" stroke="#2f9e44" stroke-width="0.35" stroke-linejoin="round" font-size="21.3"><tspan x="1486.66" textLength="34.57" lengthAdjust="spacingAndGlyphs">443</tspan></text>
<path d="M1643.92 600.81 Q1581.22 644.43 1520.15 690.29" stroke="#2f9e44" stroke-width="1.9" fill="none" stroke-linecap="round"/>
<path d="M1642.80 599.27 Q1581.37 644.64 1519.53 689.43" stroke="#2f9e44" stroke-width="1.9" fill="none" stroke-linecap="round"/>
<path d="M1534.66 667.34 Q1527.35 678.65 1520.14 690.02" stroke="#2f9e44" stroke-width="1.9" fill="none" stroke-linecap="round"/>
<path d="M1534.35 667.14 Q1527.08 678.47 1519.69 689.72" stroke="#2f9e44" stroke-width="1.9" fill="none" stroke-linecap="round"/>
<path d="M1544.91 682.58 Q1532.45 686.51 1519.91 690.15" stroke="#2f9e44" stroke-width="1.9" fill="none" stroke-linecap="round"/>
<path d="M1544.72 681.92 Q1532.26 685.88 1519.71 689.50" stroke="#2f9e44" stroke-width="1.9" fill="none" stroke-linecap="round"/>
<rect x="1562.0" y="631.9" width="36.7" height="25" fill="#ffffff"/>
<text y="649.80" fill="#2f9e44" stroke="#2f9e44" stroke-width="0.35" stroke-linejoin="round" font-size="21.3"><tspan x="1563.15" textLength="34.89" lengthAdjust="spacingAndGlyphs">443</tspan></text>
<text y="719.70" fill="#1e1e1e" stroke="#1e1e1e" stroke-width="0.35" stroke-linejoin="round" font-size="20.3"><tspan x="1365.70" textLength="61.52" lengthAdjust="spacingAndGlyphs">KEEP:</tspan> <tspan x="1432.77" textLength="27.66" lengthAdjust="spacingAndGlyphs" font-size="20.900000000000002">LB</tspan> <tspan x="1467.33" textLength="101.92" lengthAdjust="spacingAndGlyphs" font-size="21.3">10.10.0.101</tspan></text>
<text y="239.70" fill="#1e1e1e" stroke="#1e1e1e" stroke-width="0.35" stroke-linejoin="round" font-size="20.3"><tspan x="1938.82" textLength="26.65" lengthAdjust="spacingAndGlyphs">CP</tspan> <tspan x="1972.82" textLength="97.87" lengthAdjust="spacingAndGlyphs" font-size="21.3">10.10.0.52</tspan></text>
<path d="M1904.06 324.73 Q2089.03 325.01 2273.43 324.72 Q2305.55 324.95 2305.68 356.54 Q2305.29 451.78 2305.58 546.74 Q2305.70 578.56 2273.41 578.84 Q2089.03 578.62 1904.25 578.57 Q1872.56 578.63 1872.45 546.60 Q1872.32 451.78 1872.65 357.20 Q1872.35 324.74 1904.56 324.64" stroke="#e03131" stroke-width="2.0" fill="none" stroke-linecap="round" stroke-linejoin="round"/>
<path d="M1903.65 324.43 Q2089.48 324.08 2275.17 324.08 Q2307.08 324.14 2306.71 355.81 Q2307.00 451.72 2307.05 547.59 Q2306.81 579.34 2274.86 579.30 Q2089.48 578.98 1903.85 579.31 Q1872.15 579.16 1871.99 547.51 Q1872.42 451.72 1871.79 355.89 Q1872.16 324.32 1903.99 323.84" stroke="#e03131" stroke-width="2.0" fill="none" stroke-linecap="round" stroke-linejoin="round"/>
<path d="M1901.86 393.82 C1901.86 367.78 1925.25 346.68 1954.10 346.68 C1982.95 346.68 2006.34 367.78 2006.34 393.82 C2006.34 419.86 1982.95 440.96 1954.10 440.96 C1925.25 440.96 1901.86 419.86 1901.86 393.82 Z" transform="rotate(0.97 1953.80 393.90)" stroke="#f08c00" stroke-width="2.0" fill="none"/>
<path d="M1900.76 394.10 C1900.76 367.66 1924.40 346.23 1953.56 346.23 C1982.73 346.23 2006.36 367.66 2006.36 394.10 C2006.36 420.54 1982.73 441.97 1953.56 441.97 C1924.40 441.97 1900.76 420.54 1900.76 394.10 Z" transform="rotate(1.04 1953.80 393.90)" stroke="#f08c00" stroke-width="2.0" fill="none"/>
<text y="398.90" fill="#f08c00" stroke="#f08c00" stroke-width="0.35" stroke-linejoin="round" font-size="20"><tspan x="1938.45" textLength="29.64" lengthAdjust="spacingAndGlyphs">cp1</tspan></text>
<path d="M1961.19 349.20 Q1980.36 301.83 2000.35 254.80" stroke="#1e1e1e" stroke-width="1.9" fill="none" stroke-linecap="round"/>
<path d="M1962.69 349.83 Q1982.24 302.62 2002.14 255.55" stroke="#1e1e1e" stroke-width="1.9" fill="none" stroke-linecap="round"/>
<path d="M1983.87 273.09 Q1992.54 264.10 2001.01 254.93" stroke="#1e1e1e" stroke-width="1.9" fill="none" stroke-linecap="round"/>
<path d="M1984.53 273.71 Q1992.99 264.52 2001.38 255.28" stroke="#1e1e1e" stroke-width="1.9" fill="none" stroke-linecap="round"/>
<path d="M2001.10 280.20 Q2001.16 267.70 2000.82 255.20" stroke="#1e1e1e" stroke-width="1.9" fill="none" stroke-linecap="round"/>
<path d="M2001.45 280.20 Q2001.57 267.70 2001.64 255.20" stroke="#1e1e1e" stroke-width="1.9" fill="none" stroke-linecap="round"/>
<rect x="1956.4" y="289.5" width="50.5" height="25" fill="#ffffff"/>
<text y="308.00" fill="#2f9e44" stroke="#2f9e44" stroke-width="0.35" stroke-linejoin="round" font-size="21.3"><tspan x="1956.97" textLength="49.25" lengthAdjust="spacingAndGlyphs">6443</tspan></text>
<path d="M2149.99 354.01 Q2179.20 354.08 2208.56 354.10 Q2231.81 354.13 2231.71 377.07 Q2231.86 400.40 2231.74 423.21 Q2231.84 446.75 2208.47 446.43 Q2179.20 446.63 2149.62 446.39 Q2126.63 446.51 2126.61 423.41 Q2126.23 400.40 2126.75 377.11 Q2126.73 354.25 2149.91 353.84" stroke="#1971c2" stroke-width="2.0" fill="none" stroke-linecap="round" stroke-linejoin="round"/>
<path d="M2149.40 353.56 Q2179.20 354.06 2208.75 353.90 Q2232.42 353.73 2232.47 376.69 Q2232.69 400.40 2232.24 424.22 Q2232.40 447.03 2209.20 447.45 Q2179.20 446.75 2149.30 447.33 Q2126.03 447.29 2125.99 424.12 Q2125.83 400.40 2126.15 377.19 Q2126.05 353.57 2149.40 353.52" stroke="#1971c2" stroke-width="2.0" fill="none" stroke-linecap="round" stroke-linejoin="round"/>
<text y="405.80" fill="#1971c2" stroke="#1971c2" stroke-width="0.35" stroke-linejoin="round" font-size="20"><tspan x="2168.38" textLength="21.45" lengthAdjust="spacingAndGlyphs">w1</tspan></text>
<path d="M1929.43 464.03 Q1958.85 463.94 1988.26 464.38 Q2011.39 464.13 2011.45 487.28 Q2011.28 510.60 2011.35 533.55 Q2011.38 556.97 1988.01 557.22 Q1958.85 556.59 1930.10 557.04 Q1906.41 557.05 1906.29 533.99 Q1906.52 510.60 1906.35 487.74 Q1906.43 464.14 1929.92 463.93" stroke="#1971c2" stroke-width="2.0" fill="none" stroke-linecap="round" stroke-linejoin="round"/>
<path d="M1929.47 463.58 Q1958.85 463.88 1988.79 463.81 Q2011.81 463.68 2011.40 486.72 Q2011.43 510.60 2011.83 534.10 Q2011.75 557.59 1988.19 557.26 Q1958.85 557.59 1928.92 557.10 Q1905.90 557.31 1905.85 533.96 Q1906.03 510.60 1906.01 486.84 Q1905.99 463.74 1928.99 464.06" stroke="#1971c2" stroke-width="2.0" fill="none" stroke-linecap="round" stroke-linejoin="round"/>
<text y="516.10" fill="#1971c2" stroke="#1971c2" stroke-width="0.35" stroke-linejoin="round" font-size="20"><tspan x="1945.88" textLength="27.18" lengthAdjust="spacingAndGlyphs">w2</tspan></text>
<path d="M2069.17 465.10 Q2098.35 464.98 2127.45 465.61 Q2150.95 465.32 2150.68 488.51 Q2150.98 512.10 2150.89 535.25 Q2150.90 558.83 2127.66 559.01 Q2098.35 558.62 2069.63 558.53 Q2045.86 558.82 2045.67 535.04 Q2046.10 512.10 2045.51 488.89 Q2046.00 465.22 2069.14 465.43" stroke="#1971c2" stroke-width="2.0" fill="none" stroke-linecap="round" stroke-linejoin="round"/>
<path d="M2068.85 464.95 Q2098.35 465.14 2127.62 464.72 Q2151.28 464.69 2151.62 488.55 Q2151.55 512.10 2151.00 536.09 Q2151.44 559.34 2128.02 559.32 Q2098.35 559.10 2068.57 559.16 Q2045.19 559.29 2045.52 535.99 Q2045.66 512.10 2045.50 488.19 Q2045.37 464.83 2069.05 464.87" stroke="#1971c2" stroke-width="2.0" fill="none" stroke-linecap="round" stroke-linejoin="round"/>
<text y="516.90" fill="#1971c2" stroke="#1971c2" stroke-width="0.35" stroke-linejoin="round" font-size="20"><tspan x="2086.18" textLength="24.79" lengthAdjust="spacingAndGlyphs">w3</tspan></text>
<path d="M2198.09 465.45 Q2227.60 465.77 2256.75 465.62 Q2280.08 465.27 2280.07 488.82 Q2280.65 511.70 2280.42 534.63 Q2280.38 557.99 2256.77 558.34 Q2227.60 558.17 2198.38 558.17 Q2175.12 558.04 2175.19 534.89 Q2175.28 511.70 2174.91 488.81 Q2174.97 465.28 2198.05 465.44" stroke="#1971c2" stroke-width="2.0" fill="none" stroke-linecap="round" stroke-linejoin="round"/>
<path d="M2197.45 465.14 Q2227.60 464.53 2257.12 464.57 Q2280.90 464.80 2280.50 487.82 Q2280.33 511.70 2280.88 535.34 Q2280.82 558.63 2257.15 558.61 Q2227.60 558.43 2197.97 558.77 Q2174.59 558.40 2174.71 535.54 Q2174.85 511.70 2174.17 487.94 Q2174.31 464.69 2197.99 465.07" stroke="#1971c2" stroke-width="2.0" fill="none" stroke-linecap="round" stroke-linejoin="round"/>
<text y="517.20" fill="#1971c2" stroke="#1971c2" stroke-width="0.35" stroke-linejoin="round" font-size="20"><tspan x="2215.38" textLength="24.08" lengthAdjust="spacingAndGlyphs">w4</tspan></text>
<path d="M2091.29 584.14 Q2084.00 631.16 2077.12 678.23" stroke="#2f9e44" stroke-width="1.9" fill="none" stroke-linecap="round"/>
<path d="M2090.74 584.06 Q2084.36 631.21 2076.71 678.17" stroke="#2f9e44" stroke-width="1.9" fill="none" stroke-linecap="round"/>
<path d="M2071.64 654.17 Q2074.56 666.12 2077.26 678.12" stroke="#2f9e44" stroke-width="1.9" fill="none" stroke-linecap="round"/>
<path d="M2071.29 654.25 Q2074.21 666.20 2076.84 678.21" stroke="#2f9e44" stroke-width="1.9" fill="none" stroke-linecap="round"/>
<path d="M2089.39 656.26 Q2083.29 667.31 2077.04 678.28" stroke="#2f9e44" stroke-width="1.9" fill="none" stroke-linecap="round"/>
<path d="M2088.94 656.01 Q2082.73 667.00 2076.52 677.99" stroke="#2f9e44" stroke-width="1.9" fill="none" stroke-linecap="round"/>
<rect x="2064.5" y="618.4" width="37.0" height="25" fill="#ffffff"/>
<text y="636.90" fill="#2f9e44" stroke="#2f9e44" stroke-width="0.35" stroke-linejoin="round" font-size="21.3"><tspan x="2065.65" textLength="35.20" lengthAdjust="spacingAndGlyphs">443</tspan></text>
<text y="712.50" fill="#1e1e1e" stroke="#1e1e1e" stroke-width="0.35" stroke-linejoin="round" font-size="20.3"><tspan x="1973.20" textLength="61.52" lengthAdjust="spacingAndGlyphs">KEEP:</tspan> <tspan x="2040.27" textLength="27.66" lengthAdjust="spacingAndGlyphs" font-size="20.900000000000002">LB</tspan> <tspan x="2074.83" textLength="101.92" lengthAdjust="spacingAndGlyphs" font-size="21.3">10.10.0.101</tspan></text>
</svg>
</body>
</html>
